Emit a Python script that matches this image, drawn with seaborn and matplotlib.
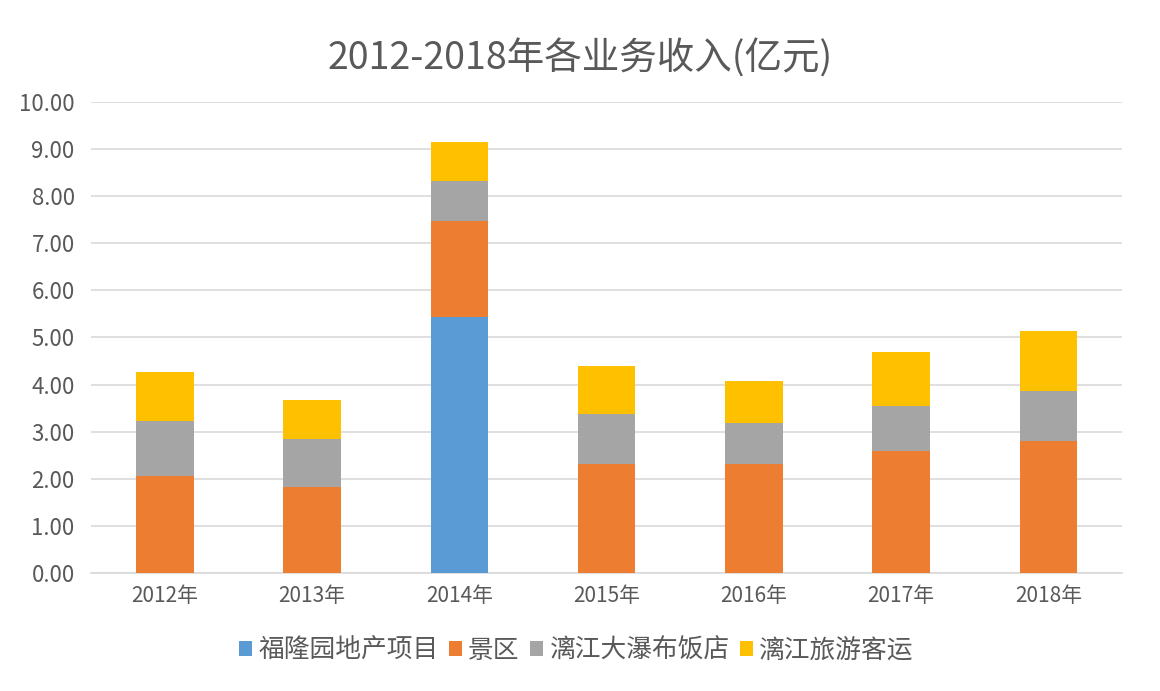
import numpy as np
import pandas as pd
import matplotlib
matplotlib.use('Agg')
import matplotlib.pyplot as plt
import seaborn as sns
from matplotlib.patches import Patch

years = ['2012年', '2013年', '2014年', '2015年', '2016年', '2017年', '2018年']
fulong = [0, 0, 5.44, 0, 0, 0, 0]
jingqu = [2.06, 1.83, 2.04, 2.31, 2.31, 2.59, 2.81]
hotel = [1.17, 1.01, 0.84, 1.06, 0.88, 0.96, 1.05]
transport = [1.03, 0.83, 0.84, 1.02, 0.89, 1.15, 1.28]
series_names = ['福隆园地产项目', '景区', '漓江大瀑布饭店', '漓江旅游客运']
colors = ['#5B9BD5', '#ED7D31', '#A5A5A5', '#FFC000']

sns.set_style('white')
plt.rcParams['font.family'] = ['Noto Sans CJK SC', 'DejaVu Sans']

df = pd.DataFrame({'year': years, 'fulong': fulong, 'jingqu': jingqu,
                   'hotel': hotel, 'transport': transport})
df['c1'] = df['fulong']
df['c2'] = df['c1'] + df['jingqu']
df['c3'] = df['c2'] + df['hotel']
df['c4'] = df['c3'] + df['transport']

fig = plt.figure(figsize=(11.6, 6.91), dpi=100)
ax = fig.add_axes([0.0787, 0.1708, 0.8885, 0.6816])

# draw cumulative totals back to front
for col, c in zip(['c4', 'c3', 'c2', 'c1'], colors[::-1]):
    sns.barplot(data=df, x='year', y=col, color=c, width=0.39,
                saturation=1, ax=ax, zorder=3, linewidth=0, edgecolor='none')

ax.set_ylim(0, 10)
ax.set_xlim(-0.5, 6.5)
ax.set_yticks(np.arange(0, 10.01, 1))
ax.set_yticklabels([f'{v:.2f}' for v in np.arange(0, 10.01, 1)])
ax.yaxis.grid(True, color='#D9D9D9', linewidth=1.2, zorder=0)
ax.set_axisbelow(True)
for s in ['top', 'right', 'left']:
    ax.spines[s].set_visible(False)
ax.spines['bottom'].set_color('#D9D9D9')
ax.spines['bottom'].set_linewidth(1.2)
ax.tick_params(axis='both', length=0, colors='#595959', labelsize=15)
ax.tick_params(axis='y', pad=12, labelsize=16)
ax.tick_params(axis='x', pad=9)
ax.set_xlabel('')
ax.set_ylabel('')

fig.text(0.5, 0.915, '2012-2018年各业务收入(亿元)', ha='center', va='center',
         fontsize=27, color='#595959')

handles = [Patch(facecolor=c, edgecolor='none') for c in colors]
fig.legend(handles, series_names, loc='center', bbox_to_anchor=(0.497, 0.058),
           ncol=4, frameon=False, fontsize=18.5, handlelength=0.5,
           handleheight=0.5, handletextpad=0.25, columnspacing=0.4,
           labelcolor='#595959')

fig.savefig('out.png', dpi=100)
